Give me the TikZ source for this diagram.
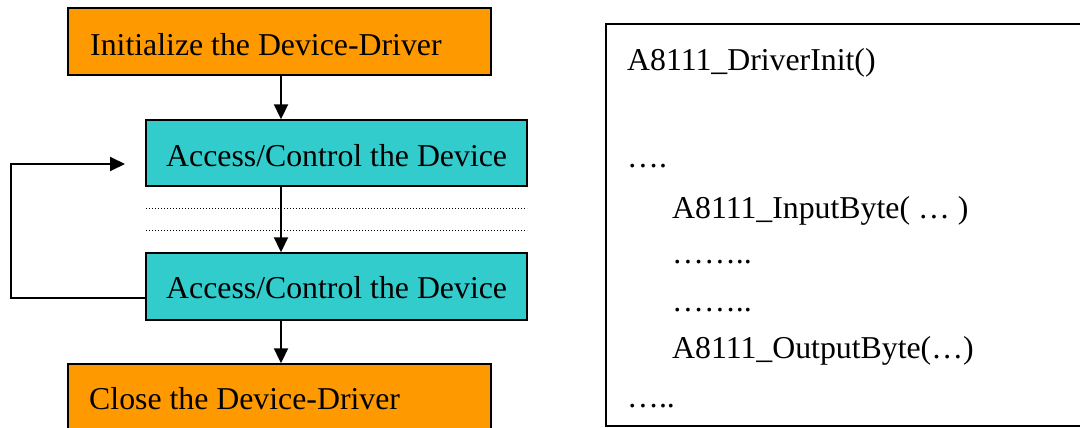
\documentclass[tikz,border=0pt]{standalone}
\usepackage{fontspec}
\setmainfont{Liberation Serif}
\usetikzlibrary{arrows.meta}
\definecolor{boxorange}{HTML}{FF9900}
\definecolor{boxcyan}{HTML}{33CCCC}
\tikzset{
  boxbase/.style={draw=black, line width=1.4pt, rectangle, inner sep=0pt},
  obox/.style={boxbase, fill=boxorange},
  cbox/.style={boxbase, fill=boxcyan},
  wbox/.style={boxbase, fill=white},
  txt/.style={anchor=base west, inner sep=0pt, font=\fontsize{31.8pt}{38pt}\selectfont},
  arr/.style={line width=2pt, -{Triangle[length=15pt,width=14pt]}},
  dotline/.style={line width=0.9pt, dash pattern=on 1pt off 2pt},
}
\begin{document}
\begin{tikzpicture}[x=1pt,y=-1pt]
\useasboundingbox (0,0) rectangle (1080,428);
\clip (0,0) rectangle (1080,428);
\fill[white] (0,0) rectangle (1080,428);
% left flow
\node[obox, minimum width=423pt, minimum height=67pt] (init) at (279.5,41.5) {};
\node[txt] (initT) at (90,55.5) {Initialize the Device-Driver};
\node[cbox, minimum width=381pt, minimum height=66pt] (acc1) at (336.5,153) {};
\node[txt] (acc1T) at (166,166) {Access/Control the Device};
\node[cbox, minimum width=381pt, minimum height=67pt] (acc2) at (336.5,286.5) {};
\node[txt] (acc2T) at (166,298.5) {Access/Control the Device};
\node[obox, minimum width=423pt, minimum height=80pt] (close) at (279.5,404) {};
\node[txt] (closeT) at (89,409.5) {Close the Device-Driver};
\coordinate (colx) at (281,0);
\coordinate (dotA) at (146,208.5);
\coordinate (dotAe) at (527,208.5);
\coordinate (dotB) at (146,230.5);
\coordinate (dotBe) at (527,230.5);
\draw[dotline] (dotA) -- (dotAe);
\draw[dotline] (dotB) -- (dotBe);
\draw[arr] (init.south -| colx) -- (acc1.north -| colx);
\draw[arr] (acc1.south -| colx) -- (acc2.north -| colx);
\draw[arr] (acc2.south -| colx) -- (close.north -| colx);
\coordinate (loopS) at (146,297.5);
\coordinate (loopL) at (11,297.5);
\coordinate (loopE) at (125,164);
\draw[arr] (loopS) -- (loopL) |- (loopE);
% right code box
\node[wbox, minimum width=480pt, minimum height=402pt] (code) at (846,225) {};
\node[txt] (l1) at (627,71) {A8111\_DriverInit()};
\node[txt] (l2) at (627,167.5) {….};
\node[txt] (l3) at (672,218) {A8111\_InputByte( … )};
\node[txt] (l4) at (672,263.5) {……..};
\node[txt] (l5) at (672,311.5) {……..};
\node[txt] (l6) at (672,358) {A8111\_OutputByte(…)};
\node[txt] (l7) at (627,407) {…..};
\end{tikzpicture}
\end{document}
